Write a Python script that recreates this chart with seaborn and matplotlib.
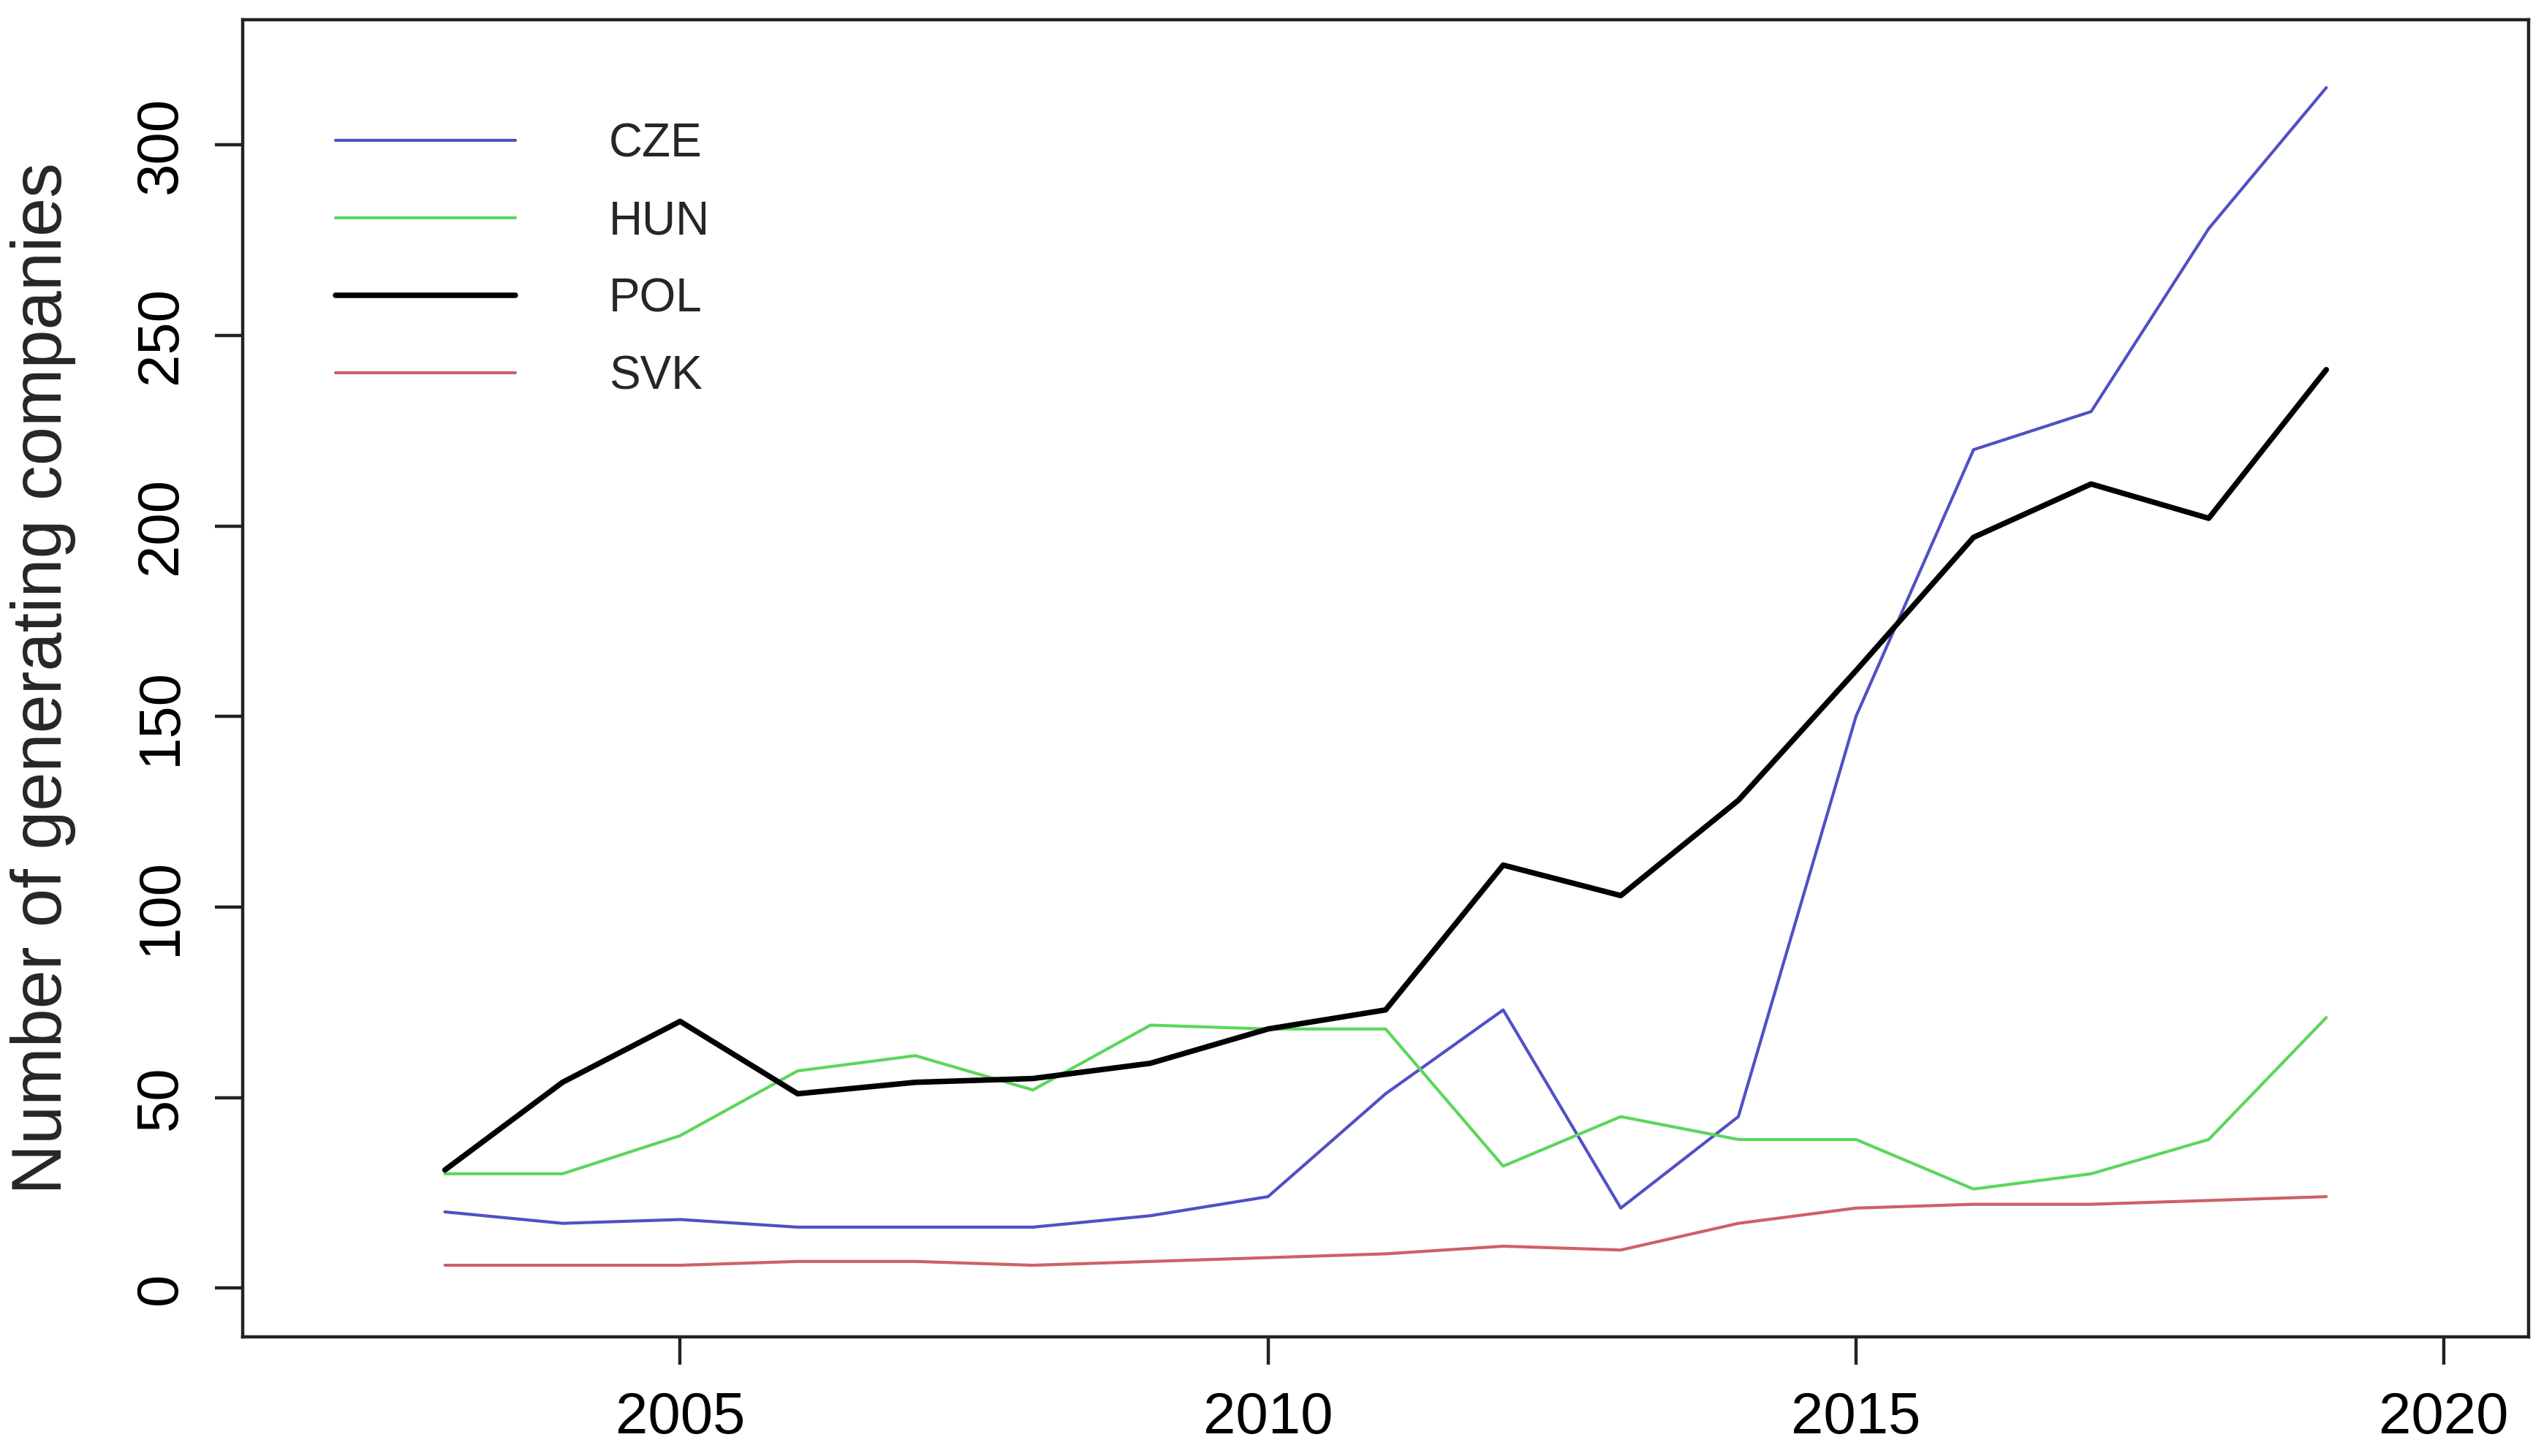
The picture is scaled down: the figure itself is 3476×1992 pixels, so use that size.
import matplotlib
matplotlib.use("Agg")

import matplotlib.pyplot as plt  # noqa: E402
import numpy as np               # noqa: E402
import pandas as pd              # noqa: E402
import seaborn as sns            # noqa: E402

sns.set_theme(style="white")
plt.rcParams["font.family"] = ["Liberation Sans", "DejaVu Sans"]

# --------------------------------------------------------------------------- #
# Data
# --------------------------------------------------------------------------- #
years = list(range(2003, 2020))
countries = ["CZE", "HUN", "POL", "SVK"]

cze = [20, 17, 18, 16, 16, 16, 19, 24, 51, 73, 21, 45, 150, 220, 230, 278, 315]
hun = [30, 30, 40, 57, 61, 52, 69, 68, 68, 32, 45, 39, 39, 26, 30, 39, 71]
pol = [31, 54, 70, 51, 54, 55, 59, 68, 73, 111, 103, 128, 162, 197, 211, 202, 241]
svk = [6, 6, 6, 7, 7, 6, 7, 8, 9, 11, 10, 17, 21, 22, 22, 23, 24]

x_ticks = [2005, 2010, 2015, 2020]
y_ticks = [0, 50, 100, 150, 200, 250, 300]

colors = {"CZE": "#5050C4", "HUN": "#5CD65C", "POL": "black", "SVK": "#CF6066"}
widths = {"CZE": 1.5, "HUN": 1.5, "POL": 2.7, "SVK": 1.5}

df = pd.DataFrame(
    {
        "year": years * 4,
        "country": np.repeat(countries, len(years)),
        "n": cze + hun + pol + svk,
    }
)

# --------------------------------------------------------------------------- #
# Figure
# --------------------------------------------------------------------------- #
fig = plt.figure(figsize=(17.38, 9.96), dpi=200)
ax = fig.add_axes([0.0955, 0.0818, 0.8996, 0.9046])

for name in countries:
    sns.lineplot(
        data=df[df.country == name], x="year", y="n", ax=ax,
        color=colors[name], lw=widths[name], label=name,
    )

# R-like limits: data range padded by 4 %
ax.set_xlim(2002 - 0.72, 2020 + 0.72)
ax.set_ylim(0 - 12.8, 320 + 12.8)
ax.set_xticks(x_ticks)
ax.set_yticks(y_ticks)
ax.set_xticklabels([str(t) for t in x_ticks])
ax.set_yticklabels([str(t) for t in y_ticks], rotation=90, va="center")

ax.tick_params(
    bottom=True, left=True, direction="out", length=13.7, width=1.6,
    labelsize=28.7, color="#222222", labelcolor="black",
)
ax.tick_params(axis="x", pad=13)
ax.tick_params(axis="y", pad=13)

for sp in ax.spines.values():
    sp.set_visible(True)
    sp.set_color("#222222")
    sp.set_linewidth(1.6)

ax.set_xlabel("")
ax.set_ylabel("Number of generating companies", fontsize=34.4)
ax.yaxis.set_label_coords(-0.073, 0.5)

ax.legend(
    loc="upper left", bbox_to_anchor=(0.0406, 0.922), frameon=False,
    fontsize=23, handlelength=3.85, handletextpad=2.0,
    labelspacing=0.72, borderpad=0, borderaxespad=0,
)

fig.savefig("out.png", dpi=200)
plt.close(fig)
